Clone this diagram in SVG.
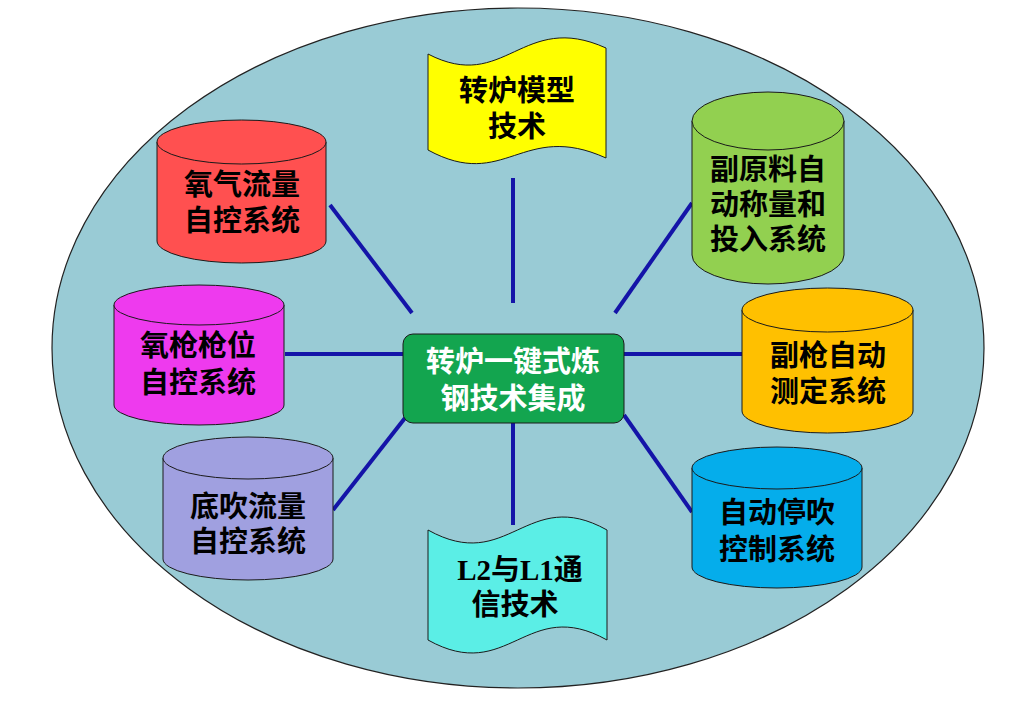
<svg xmlns="http://www.w3.org/2000/svg" width="1023" height="704" viewBox="0 0 1023 704">
<style>
.cyl{stroke:#1a1a1a;stroke-width:1}
.lbl{font-family:"Liberation Serif","Noto Sans CJK SC",serif;font-weight:bold;font-size:29px;text-anchor:middle;fill:#000}
.w{fill:#fff}
.conn line{stroke:#1414A8;stroke-width:4}
</style>
<rect width="1023" height="704" fill="#fff"/>
<ellipse cx="518" cy="348" rx="466" ry="340" fill="#99CBD5" stroke="#222" stroke-width="1.2"/>
<g class="conn" id="connectors">
<line x1="513" y1="178" x2="513" y2="303"/>
<line x1="513" y1="423" x2="513" y2="525"/>
<line x1="285" y1="354" x2="403" y2="354"/>
<line x1="624" y1="354" x2="742" y2="354"/>
<line x1="330" y1="205" x2="412" y2="313"/>
<line x1="692" y1="203" x2="615" y2="313"/>
<line x1="405" y1="418" x2="333" y2="510"/>
<line x1="624" y1="415" x2="692" y2="512"/>
</g>
<g id="n-red">
<path class="cyl" fill="#FF5050" d="M157,142 L157,241 A84.5,22 0 0 0 326,241 L326,142 Z"/>
<ellipse class="cyl" fill="#FF5050" cx="241.5" cy="142" rx="84.5" ry="22"/>
<text class="lbl" x="242" y="195">氧气流量</text>
<text class="lbl" x="242" y="231">自控系统</text>
</g>
<g id="n-magenta">
<path class="cyl" fill="#EE3AEE" d="M114,305 L114,405 A85,20 0 0 0 284,405 L284,305 Z"/>
<ellipse class="cyl" fill="#EE3AEE" cx="199" cy="305" rx="85" ry="20"/>
<text class="lbl" x="198" y="356">氧枪枪位</text>
<text class="lbl" x="198" y="393">自控系统</text>
</g>
<g id="n-purple">
<path class="cyl" fill="#A0A0E0" d="M163,458 L163,559 A85,21 0 0 0 333,559 L333,458 Z"/>
<ellipse class="cyl" fill="#A0A0E0" cx="248" cy="458" rx="85" ry="21"/>
<text class="lbl" x="248" y="517">底吹流量</text>
<text class="lbl" x="248" y="552">自控系统</text>
</g>
<g id="n-green">
<path class="cyl" fill="#92D050" d="M692,121 L692,255 A76,29 0 0 0 844,255 L844,121 Z"/>
<ellipse class="cyl" fill="#92D050" cx="768" cy="121" rx="76" ry="29"/>
<text class="lbl" x="768" y="180">副原料自</text>
<text class="lbl" x="768" y="215">动称量和</text>
<text class="lbl" x="768" y="250">投入系统</text>
</g>
<g id="n-orange">
<path class="cyl" fill="#FFC000" d="M742,310 L742,411 A85.5,22 0 0 0 913,411 L913,310 Z"/>
<ellipse class="cyl" fill="#FFC000" cx="827.5" cy="310" rx="85.5" ry="22"/>
<text class="lbl" x="828" y="366">副枪自动</text>
<text class="lbl" x="828" y="402">测定系统</text>
</g>
<g id="n-blue">
<path class="cyl" fill="#05ADEB" d="M692,468 L692,567 A85,21 0 0 0 862,567 L862,468 Z"/>
<ellipse class="cyl" fill="#05ADEB" cx="777" cy="468" rx="85" ry="21"/>
<text class="lbl" x="777" y="523">自动停吹</text>
<text class="lbl" x="777" y="560">控制系统</text>
</g>
<g id="n-yellow">
<path class="cyl" fill="#FFFF00" d="M428,54 C505,94 522,10 606,48 L606,158 C522,120 505,192 428,150 Z"/>
<text class="lbl" x="517" y="101">转炉模型</text>
<text class="lbl" x="517" y="137">技术</text>
</g>
<g id="n-cyan">
<path class="cyl" fill="#5BEEE6" d="M428,530 C508.5,575 526.5,485 607,530 L607,640 C526.5,595 508.5,685 428,640 Z"/>
<text class="lbl" x="520" y="580">L2与L1通</text>
<text class="lbl" x="515" y="615">信技术</text>
</g>
<g id="n-center">
<rect x="403" y="334" width="221" height="89" rx="10" fill="#13A54F" stroke="#1a1a1a" stroke-width="1"/>
<text class="lbl w" x="513" y="372">转炉一键式炼</text>
<text class="lbl w" x="513" y="409">钢技术集成</text>
</g>
</svg>
